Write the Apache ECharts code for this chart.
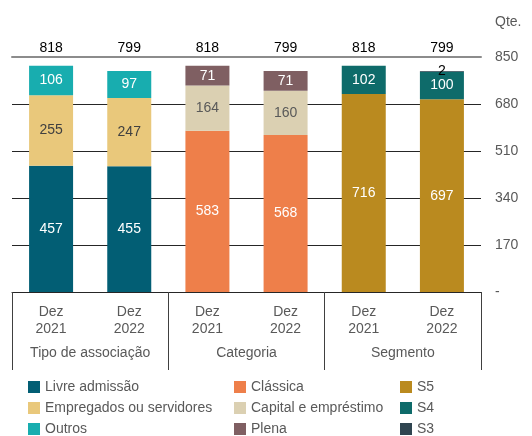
<!DOCTYPE html>
<html><head><meta charset="utf-8">
<script src="https://cdn.jsdelivr.net/npm/echarts@6/dist/echarts.min.js"></script>
<style>html,body{margin:0;padding:0;background:#fff}#c{width:532px;height:436px}</style>
</head><body><div id="c"></div>
<script>
const periods = ['Dez\n2021','Dez\n2022','Dez\n2021','Dez\n2022','Dez\n2021','Dez\n2022'];
const groups = ['Tipo de associação','Categoria','Segmento'];
const totals = [818, 799, 818, 799, 818, 799];
const yTicks = [0, 170, 340, 510, 680, 850];

const livre      = [457, 455, null, null, null, null];
const empregados = [255, 247, null, null, null, null];
const outros     = [106, 97, null, null, null, null];
const classica   = [null, null, 583, 568, null, null];
const capital    = [null, null, 164, 160, null, null];
const plena      = [null, null, 71, 71, null, null];
const s5         = [null, null, null, null, 716, 697];
const s4         = [null, null, null, null, 102, 100];
const s3         = [null, null, null, null, 0, 2];

const FONT = '"Liberation Sans", Arial, sans-serif';
const specs = [
  ['Livre admissão', livre, '#025E74', '#ffffff'],
  ['Empregados ou servidores', empregados, '#E9C87B', '#404040'],
  ['Outros', outros, '#18ADAF', '#ffffff'],
  ['Clássica', classica, '#EE7F4A', '#ffffff'],
  ['Capital e empréstimo', capital, '#DBD0B2', '#595959'],
  ['Plena', plena, '#7F5F62', '#ffffff'],
  ['S5', s5, '#BA8A1F', '#ffffff'],
  ['S4', s4, '#0E6B6A', '#ffffff'],
  ['S3', s3, '#2F4550', '#000000']
];

const series = specs.map(([name, data, color, lc]) => ({
  name, type: 'bar', stack: 'all', barWidth: 44, data,
  xAxisIndex: 0, yAxisIndex: 0,
  itemStyle: { color },
  label: {
    show: true, position: 'inside', color: lc, fontSize: 14, fontFamily: FONT,
    formatter: p => (p.value ? String(p.value) : '')
  }
}));

const legendText = { color: '#595959', fontSize: 14, fontFamily: FONT };
const mkLegend = (left, data) => ({
  orient: 'vertical', left, top: 380, padding: 0, itemGap: 7,
  itemWidth: 12, itemHeight: 12, icon: 'rect', textStyle: legendText, data,
  selectedMode: false
});

const chart = echarts.init(document.getElementById('c'), null, { renderer: 'canvas' });
chart.setOption({
  animation: false,
  textStyle: { fontFamily: FONT },
  grid: { left: 12, right: 51, top: 57, bottom: 144, containLabel: false, outerBoundsMode: 'none' },
  legend: [
    mkLegend(28, ['Livre admissão', 'Empregados ou servidores', 'Outros']),
    mkLegend(234, ['Clássica', 'Capital e empréstimo', 'Plena']),
    mkLegend(400, ['S5', 'S4', 'S3'])
  ],
  xAxis: [
    {
      type: 'category', data: periods, position: 'bottom',
      axisLine: { lineStyle: { color: '#262626', width: 1 } },
      axisTick: { show: false },
      axisLabel: { color: '#595959', fontSize: 14, lineHeight: 17, margin: 12, fontFamily: FONT, interval: 0 }
    },
    {
      type: 'category', data: groups, position: 'bottom',
      axisLine: { show: false },
      axisTick: { show: true, length: 78, interval: 0, lineStyle: { color: '#404040', width: 1 } },
      axisLabel: { color: '#595959', fontSize: 14, margin: 54, fontFamily: FONT, interval: 0 }
    },
    {
      type: 'category', data: totals.map(String), position: 'top',
      axisLine: { lineStyle: { color: '#8c8c8c', width: 2 } },
      axisTick: { show: false },
      axisLabel: { color: '#000000', fontSize: 14, margin: 2, fontFamily: FONT, interval: 0 }
    }
  ],
  yAxis: {
    type: 'value', position: 'right', min: yTicks[0], max: yTicks[yTicks.length - 1], interval: 170,
    name: 'Qte.', nameLocation: 'end', nameGap: 28,
    nameTextStyle: { color: '#595959', fontSize: 14, align: 'left', padding: [0, 0, 0, 14], fontFamily: FONT },
    axisLine: { show: false }, axisTick: { show: false },
    splitLine: { lineStyle: { color: '#262626', width: 1 } },
    axisLabel: { color: '#595959', fontSize: 14, margin: 14, fontFamily: FONT,
      formatter: v => (v === 0 ? '-' : String(v)) }
  },
  series
});
</script></body></html>
